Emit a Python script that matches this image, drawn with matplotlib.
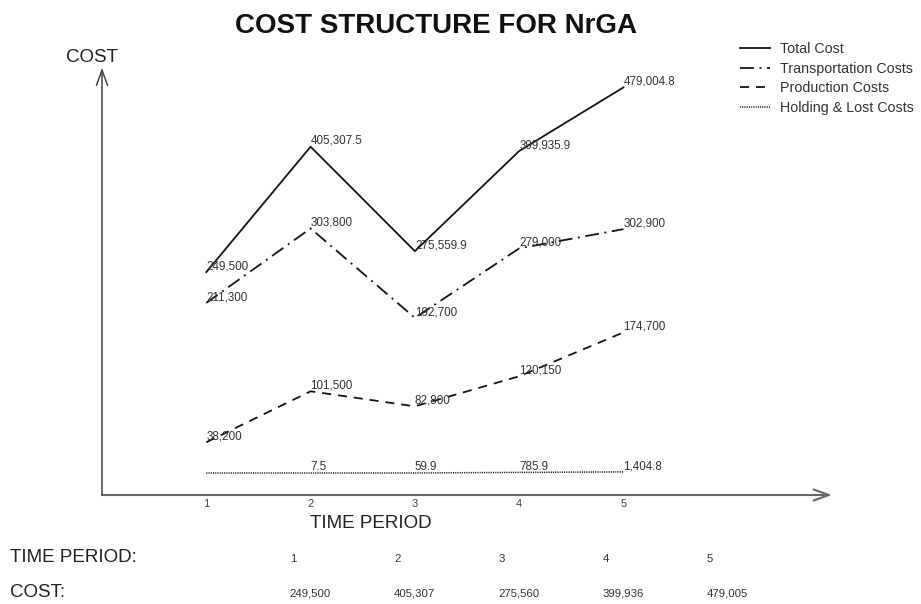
import matplotlib
matplotlib.use("Agg")
import matplotlib.pyplot as plt
from matplotlib.transforms import blended_transform_factory, ScaledTranslation

plt.rcParams['font.family'] = ['Liberation Sans', 'DejaVu Sans']
plt.rcParams['lines.scale_dashes'] = False

# ---- data ----
periods = [1, 2, 3, 4, 5]
total_cost = [249500, 405307.5, 275559.9, 399935.9, 479004.8]
transport_cost = [211300, 303800, 192700, 279000, 302900]
production_cost = [38200, 101500, 82800, 120150, 174700]
holding_cost = [0, 7.5, 59.9, 785.9, 1404.8]

total_labels = ["249,500", "405,307.5", "275,559.9", "399,935.9", "479,004.8"]
transport_labels = ["211,300", "303,800", "192,700", "279,000", "302,900"]
production_labels = ["38,200", "101,500", "82,800", "120,150", "174,700"]
holding_labels = ["", "7.5", "59.9", "785.9", "1,404.8"]

series_names = ["Total Cost", "Transportation Costs", "Production Costs", "Holding & Lost Costs"]
table_periods = ["1", "2", "3", "4", "5"]
table_costs = ["249,500", "405,307", "275,560", "399,936", "479,005"]

W, H = 921, 604
fig = plt.figure(figsize=(W / 100, H / 100), dpi=100)
fig.patch.set_facecolor('white')

ax = fig.add_axes([102 / W, (H - 495) / H, (840 - 102) / W, (495 - 60) / H])
ax.set_xlim(0, 7.076)
ax.set_ylim(-27300, 513000)
for s in ax.spines.values():
    s.set_visible(False)
ax.set_yticks([])
ax.set_xticks(periods)
ax.set_xticklabels([str(p) for p in periods], fontsize=8, color='#444444')
ax.tick_params(axis='x', length=0, pad=3)

line_color = '#151515'
styles = [
    dict(linestyle='-', lw=1.3),
    dict(linestyle=(0, (10, 4, 1.4, 4)), lw=1.3),
    dict(linestyle=(0, (6.5, 5)), lw=1.3),
    dict(linestyle=(0, (0.8, 0.8)), lw=1.1),
]
all_vals = [total_cost, transport_cost, production_cost, holding_cost]
all_labels = [total_labels, transport_labels, production_labels, holding_labels]

handles = []
for vals, st, name in zip(all_vals, styles, series_names):
    h, = ax.plot(periods, vals, color=line_color, **st, label=name)
    handles.append(h)

lab_off = ScaledTranslation(0, 2.0 / 72, fig.dpi_scale_trans)
for vals, labs in zip(all_vals, all_labels):
    for x, y, t in zip(periods, vals, labs):
        if t:
            ax.text(x, y, t, fontsize=8.4, color='#333333', ha='left', va='baseline',
                    transform=ax.transData + lab_off)

# axis arrows
ax.annotate('', xy=(0.989, 0), xytext=(0, 0), xycoords='axes fraction',
            textcoords='axes fraction', annotation_clip=False,
            arrowprops=dict(arrowstyle='->,head_length=1.1,head_width=0.4', lw=1.5,
                            color='#6a6a6a', shrinkA=0, shrinkB=0, mutation_scale=10))
ax.annotate('', xy=(0, 0.982), xytext=(0, 0), xycoords='axes fraction',
            textcoords='axes fraction', annotation_clip=False,
            arrowprops=dict(arrowstyle='->,head_length=1.1,head_width=0.4', lw=1.1,
                            color='#444444', shrinkA=0, shrinkB=0, mutation_scale=10))

# titles and labels
fig.text(435.5 / W, 1 - 33 / H, "COST STRUCTURE FOR NrGA", fontsize=20, fontweight='bold',
         ha='center', va='baseline', color='#111111')
fig.text(66 / W, 1 - 62 / H, "COST", fontsize=13.5, ha='left', va='baseline', color='#222222')
fig.text(310 / W, 1 - 528 / H, "TIME PERIOD", fontsize=13.5, ha='left', va='baseline', color='#222222')

# legend
fig.legend(handles, series_names, loc='upper left', bbox_to_anchor=(740 / W, 1 - 42 / H),
           frameon=False, fontsize=10.3, handlelength=2.1, handletextpad=0.7,
           labelspacing=0.4, borderpad=0, borderaxespad=0, labelcolor='#333333')

# bottom table
fig.text(10 / W, 1 - 562 / H, "TIME PERIOD:", fontsize=13.5, ha='left', va='baseline', color='#222222')
fig.text(10 / W, 1 - 597 / H, "COST:", fontsize=13.5, ha='left', va='baseline', color='#222222')
tr = blended_transform_factory(ax.transData, fig.transFigure)
for x, p, c in zip(periods, table_periods, table_costs):
    ax.text(x + 0.8, 1 - 562 / H, p, fontsize=8.2, ha='left', va='baseline', color='#333333',
            transform=tr, clip_on=False)
    ax.text(x + 0.8, 1 - 597 / H, c, fontsize=8.2, ha='left', va='baseline', color='#333333',
            transform=tr, clip_on=False)

fig.savefig('out.png', dpi=100)
